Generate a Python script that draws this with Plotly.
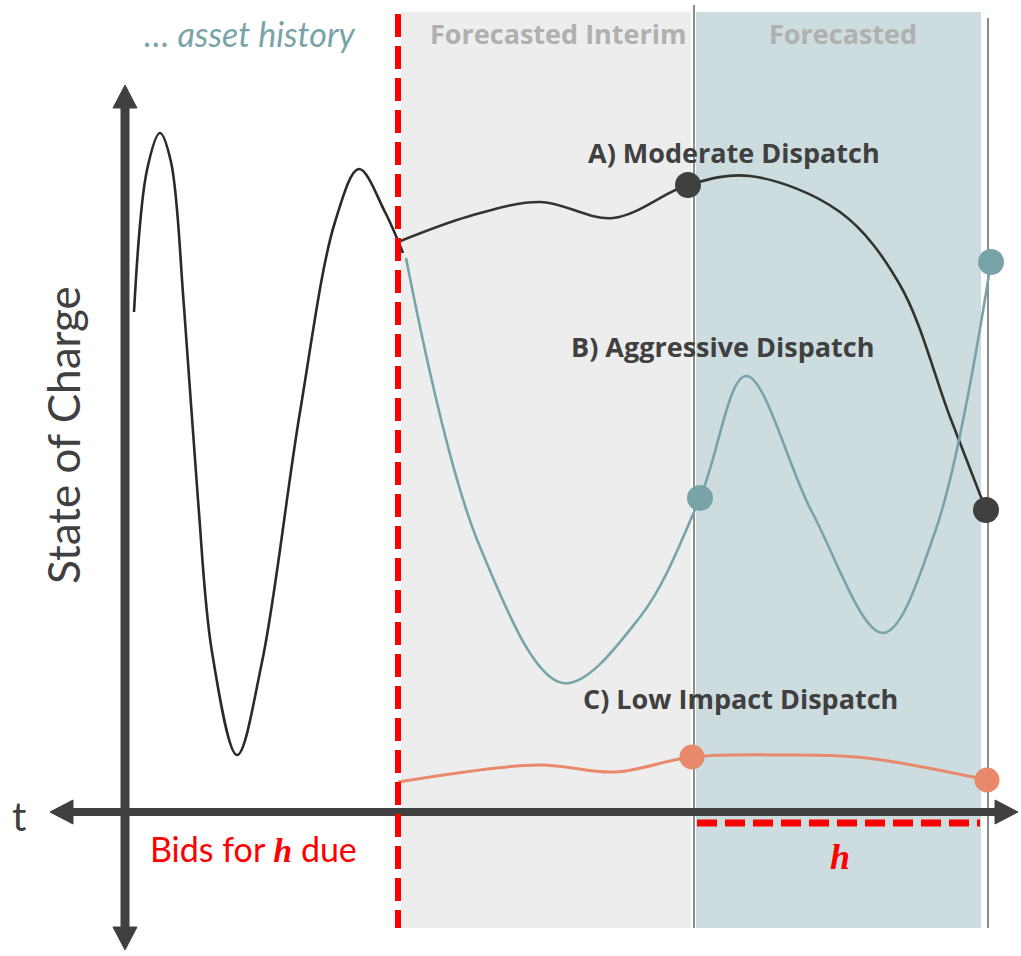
import plotly.graph_objects as go

# ---- data (t along time axis, soc = state of charge above the t-axis) ----
hist_t = [134, 147, 160, 171, 184, 198, 212, 237, 262, 300, 335, 359, 385, 403]
hist_soc = [500, 642, 679, 650, 505, 312, 160, 57, 150, 400, 590, 643, 600, 559]

a_t = [398, 470, 540, 613, 688, 750, 840, 900, 950, 986]
a_soc = [570, 596, 610, 594, 627, 636, 600, 527, 395, 302]

b_t = [406, 480, 563, 640, 700, 746, 812, 883, 935, 991]
b_soc = [554, 265, 129, 195, 314, 436, 300, 179, 280, 550]

c_t = [398, 538, 615, 692, 785, 866, 987]
c_soc = [30, 47, 40, 55, 57, 54, 32]

a_dots_t, a_dots_soc = [688, 986], [627, 302]
b_dots_t, b_dots_soc = [700, 991], [314, 550]
c_dots_t, c_dots_soc = [692, 987], [55, 32]

DARK = "#404040"
TEAL = "#78a4a8"
SALMON = "#e8896b"
RED = "#ff0000"

fig = go.Figure()

shapes = []
# background regions
shapes.append(dict(type="rect", x0=401, x1=691, y0=-116, y1=800, fillcolor="#ededed",
                   line=dict(width=0), layer="below"))
shapes.append(dict(type="rect", x0=696, x1=981, y0=-116, y1=800, fillcolor="#ccdcdf",
                   line=dict(width=0), layer="below"))
# thin vertical boundaries
shapes.append(dict(type="line", x0=694, x1=694, y0=807, y1=-116, line=dict(color=DARK, width=1.2),
                   layer="below"))
shapes.append(dict(type="line", x0=988, x1=988, y0=794, y1=-116, line=dict(color=DARK, width=1.2),
                   layer="below"))

# axes shafts
shapes.append(dict(type="line", x0=125, x1=125, y0=-120, y1=710, line=dict(color=DARK, width=9)))
shapes.append(dict(type="line", x0=68, x1=1000, y0=0, y1=0, line=dict(color=DARK, width=8)))
# arrow heads
def tri(path):
    return dict(type="path", path=path, fillcolor=DARK, line=dict(color=DARK, width=1))
shapes.append(tri("M 113,704 L 137,704 L 125,727 Z"))
shapes.append(tri("M 113,-115 L 137,-115 L 125,-138 Z"))
shapes.append(tri("M 73,12 L 73,-12 L 50,0 Z"))
shapes.append(tri("M 995,12 L 995,-12 L 1018,0 Z"))

# red dashed lines
shapes.append(dict(type="line", x0=398, x1=398, y0=798, y1=-116,
                   line=dict(color=RED, width=6, dash="23px,9px")))
shapes.append(dict(type="line", x0=697, x1=980, y0=-11, y1=-11,
                   line=dict(color=RED, width=7, dash="20px,8px")))

fig.update_layout(shapes=shapes)

# curves
sp = dict(shape="spline", smoothing=1.0)
fig.add_trace(go.Scatter(x=hist_t, y=hist_soc, mode="lines", line=dict(color="#2a2a2a", width=2.6, **sp)))
fig.add_trace(go.Scatter(x=a_t, y=a_soc, mode="lines", line=dict(color="#333333", width=2.6, **sp)))
fig.add_trace(go.Scatter(x=b_t, y=b_soc, mode="lines", line=dict(color=TEAL, width=2.6, **sp)))
fig.add_trace(go.Scatter(x=c_t, y=c_soc, mode="lines", line=dict(color=SALMON, width=3, **sp)))

fig.add_trace(go.Scatter(x=a_dots_t, y=a_dots_soc, mode="markers", marker=dict(color=DARK, size=26)))
fig.add_trace(go.Scatter(x=b_dots_t, y=b_dots_soc, mode="markers", marker=dict(color=TEAL, size=26)))
fig.add_trace(go.Scatter(x=c_dots_t, y=c_dots_soc, mode="markers", marker=dict(color=SALMON, size=25)))

ann = []
def txt(x, y, text, size, color, family, **kw):
    d = dict(x=x, y=y, text=text, showarrow=False, font=dict(size=size, color=color, family=family),
             xanchor="center", yanchor="middle")
    d.update(kw)
    ann.append(d)

txt(250, 779, "<i>… asset history</i>", 34, TEAL, "Lato")
txt(558, 779, "<b>Forecasted Interim</b>", 27, "#b0b0b0", "Open Sans")
txt(843, 779, "<b>Forecasted</b>", 27, "#b0b0b0", "Open Sans")
txt(734, 660, "<b>A) Moderate Dispatch</b>", 27, DARK, "Open Sans")
txt(722, 466, "<b>B) Aggressive Dispatch</b>", 27, DARK, "Open Sans")
txt(740, 114, "<b>C) Low Impact Dispatch</b>", 27, DARK, "Open Sans")
txt(19, -4, "t", 40, DARK, "Lato")
txt(63, 377, "State of Charge", 44, DARK, "Lato", textangle=-90)
txt(253, -36, "Bids for <span style='font-family:Liberation Serif'><b><i>h</i></b></span> due", 34, RED, "Lato")
txt(840, -45, "<b><i>h</i></b>", 36, RED, "Liberation Serif")

fig.update_layout(
    annotations=ann,
    width=1021, height=956,
    margin=dict(l=0, r=0, t=0, b=0),
    paper_bgcolor="white", plot_bgcolor="white",
    showlegend=False,
    xaxis=dict(range=[0, 1021], visible=False, fixedrange=True),
    yaxis=dict(range=[-144, 812], visible=False, fixedrange=True),
)

fig.write_html("out.html", config={"displayModeBar": False},
               post_script="document.body.style.margin='0';document.body.style.overflow='hidden';")
